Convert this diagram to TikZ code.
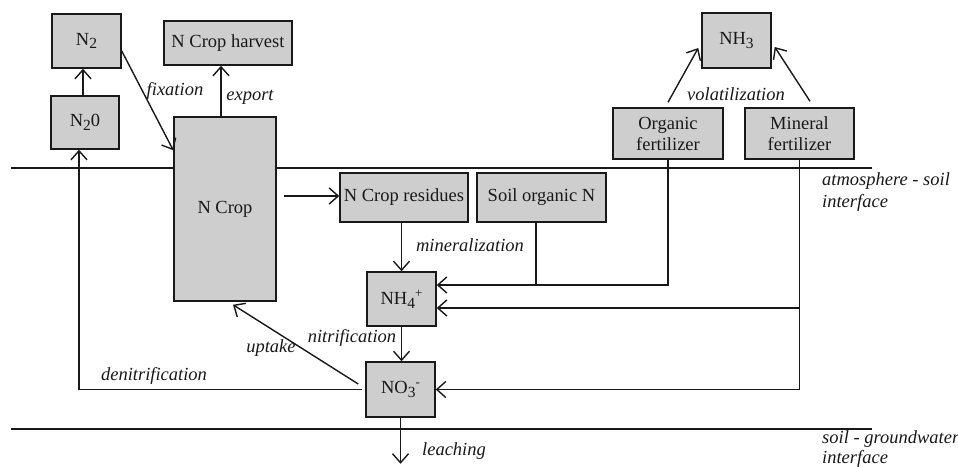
\documentclass[tikz,border=0pt]{standalone}
\usepackage{fontspec}
\setmainfont{Liberation Serif}
\usetikzlibrary{arrows.meta,calc}
\newcommand{\lowr}[1]{\raisebox{-3.5pt}{\fontsize{15.5}{15}\selectfont #1}}
\newcommand{\upr}[1]{\raisebox{7.5pt}{\fontsize{13}{13}\selectfont #1}}
\definecolor{boxgray}{RGB}{206,206,206}
\definecolor{ink}{RGB}{25,25,25}
\begin{document}
\begin{tikzpicture}[x=1pt,y=-1pt,
  font=\fontsize{18.5}{20}\selectfont,
  box/.style={draw=ink,line width=1.5pt,fill=boxgray,inner sep=0pt,align=center,text=ink},
  arr/.style={draw=ink,line width=1.4pt,-{Straight Barb[length=9pt,width=16pt,line width=1.4pt]}},
  ln/.style={draw=ink,line width=1.4pt},
  lab/.style={font=\fontsize{18.5}{20}\selectfont\itshape,inner sep=0pt,text=ink},
]
\useasboundingbox (0,0) rectangle (958,466);
\fill[white] (0,0) rectangle (958,466);
% interfaces
\draw[ln,line width=1.6pt] (11,168) -- (872,168);
\draw[ln,line width=1.6pt] (11,429) -- (872,429);
% boxes
\node[box,minimum width=69pt,minimum height=54pt] (N2) at (86.5,41) {N\lowr{2}};
\node[box,minimum width=128pt,minimum height=44pt] (harvest) at (228,43) {N Crop harvest};
\node[box,minimum width=68pt,minimum height=53pt] (N2O) at (85,122.5) {N\lowr{2}0};
\node[box,minimum width=102pt,minimum height=184pt] (NCrop) at (225,209) {N Crop};
\node[box,minimum width=128pt,minimum height=49pt] (resid) at (404,197.5) {N Crop residues};
\node[box,minimum width=129pt,minimum height=49pt] (soilN) at (541.5,197.5) {Soil organic N};
\node[box,minimum width=69pt,minimum height=55pt] (NH3) at (736.5,40.5) {NH\lowr{3}};
\node[box,minimum width=110pt,minimum height=51pt,font=\fontsize{18.5}{21}\selectfont] (orgf) at (668,133.5) {Organic\\fertilizer};
\node[box,minimum width=109pt,minimum height=51pt,font=\fontsize{18.5}{21}\selectfont] (minf) at (799.5,133.5) {Mineral\\fertilizer};
\node[box,minimum width=69pt,minimum height=54pt] (NH4) at (401.5,299) {NH\lowr{4}\upr{+}};
\node[box,minimum width=69pt,minimum height=55pt] (NO3) at (400.5,389.5) {NO\lowr{3}\upr{-}};
% helper coordinates
\coordinate (in1) at ([yshift=14pt]NH4.east);
\coordinate (in2) at ([yshift=-9pt]NH4.east);
\coordinate (leach) at ([yshift=-46pt]NO3.south);
% connectors
\draw[arr] (N2O.north -| 83,0) -- (N2.south -| 83,0);
\draw[arr] ([yshift=-10pt]N2.east) -- ([yshift=-34pt]NCrop.north west);
\draw[arr] ([xshift=-4pt]NCrop.north) -- ([xshift=-4pt]NCrop.north |- harvest.south);
\draw[arr] ([xshift=7pt]NCrop.east |- 0,196) -- (resid.west |- 0,196);
\draw[arr] (NH4.north |- resid.south) -- (NH4.north);
\draw[arr] (NH4.south) -- (NH4.south |- NO3.north);
\draw[arr] (NO3.south) -- (leach);
\draw[arr] (orgf.south) |- (in1);
\draw[ln] ([xshift=-5.5pt]soilN.south) -- ([xshift=-5.5pt]soilN.south |- in1);
\draw[arr] (minf.south) |- (NO3.east);
\draw[arr] (minf.south |- in2) -- (in2);
\draw[arr] ([yshift=5pt]orgf.north) -- ([xshift=-3pt,yshift=-7.5pt]NH3.west);
\draw[arr] ([xshift=10.5pt,yshift=6pt]minf.north) -- ([xshift=3pt,yshift=-6.5pt]NH3.east);
\draw[arr] ([xshift=-7pt,yshift=5.5pt]NO3.west) -- ([xshift=8pt,yshift=-3pt]NCrop.south);
\draw[arr] ([xshift=-3pt]NO3.west) -| ([xshift=-6pt]N2O.south);
% labels
\node[lab] (lfix) at (175,91) {fixation};
\node[lab] (lexp) at (250,97) {export};
\node[lab] (lvol) at (736,94) {volatilization};
\node[lab] (lmin) at (470,245) {mineralization};
\node[lab] (lnit) at (352,338) {nitrification};
\node[lab] (lupt) at (271,348) {uptake};
\node[lab] (lden) at (154,376) {denitrification};
\node[lab] (llea) at (454,451) {leaching};
\node[lab,anchor=north west,align=left,font=\fontsize{18.5}{22}\selectfont\itshape] (latm) at (822,172) {atmosphere - soil\\interface};
\node[lab,anchor=north west,align=left,font=\fontsize{18.5}{20}\selectfont\itshape] (lgw) at (822,430) {soil - groundwater\\interface};
\end{tikzpicture}
\end{document}
